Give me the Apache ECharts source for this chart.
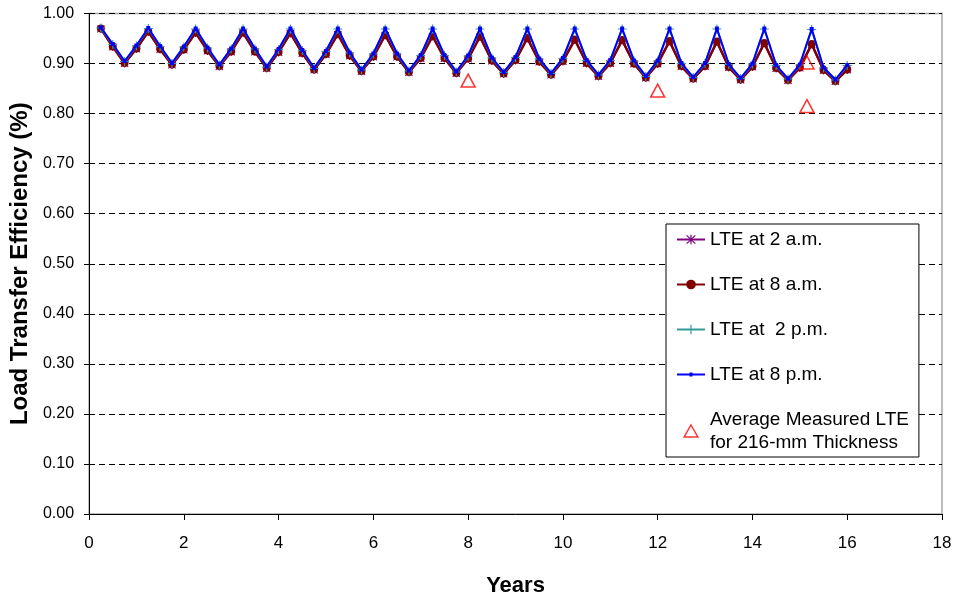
<!DOCTYPE html>
<html>
<head>
<meta charset="utf-8">
<script src="https://cdn.jsdelivr.net/npm/echarts@6/dist/echarts.min.js"></script>
<style>
html,body{margin:0;padding:0;background:#fff;}
#chart{width:955px;height:602px;}
</style>
</head>
<body>
<div id="chart"></div>
<script>
// ---- data ----
const years = [0.25,0.5,0.75,1.0,1.25,1.5,1.75,2.0,2.25,2.5,2.75,3.0,3.25,3.5,3.75,4.0,
  4.25,4.5,4.75,5.0,5.25,5.5,5.75,6.0,6.25,6.5,6.75,7.0,7.25,7.5,7.75,8.0,
  8.25,8.5,8.75,9.0,9.25,9.5,9.75,10.0,10.25,10.5,10.75,11.0,11.25,11.5,11.75,12.0,
  12.25,12.5,12.75,13.0,13.25,13.5,13.75,14.0,14.25,14.5,14.75,15.0,15.25,15.5,15.75,16.0];

const lte2am = [0.969,0.933,0.900,0.929,0.963,0.928,0.897,0.927,0.961,0.925,0.894,0.923,0.961,0.923,0.890,0.922,
  0.960,0.920,0.887,0.918,0.958,0.915,0.884,0.913,0.956,0.913,0.882,0.910,0.954,0.910,0.880,0.909,
  0.953,0.905,0.879,0.906,0.950,0.903,0.877,0.904,0.947,0.900,0.874,0.900,0.946,0.899,0.871,0.899,
  0.944,0.894,0.869,0.894,0.943,0.892,0.867,0.893,0.940,0.890,0.866,0.891,0.938,0.886,0.864,0.887];

const lte8am = [0.970,0.934,0.901,0.930,0.964,0.929,0.898,0.928,0.962,0.926,0.895,0.924,0.962,0.924,0.891,0.923,
  0.961,0.921,0.888,0.919,0.959,0.916,0.885,0.914,0.957,0.914,0.883,0.911,0.955,0.911,0.881,0.910,
  0.954,0.906,0.880,0.907,0.951,0.904,0.878,0.905,0.948,0.901,0.875,0.901,0.947,0.900,0.872,0.900,
  0.945,0.895,0.870,0.895,0.944,0.893,0.868,0.894,0.941,0.891,0.867,0.892,0.939,0.887,0.865,0.888];

const lte2pm = [0.971,0.938,0.904,0.935,0.970,0.934,0.900,0.933,0.969,0.931,0.897,0.929,0.969,0.929,0.893,0.928,
  0.969,0.926,0.890,0.924,0.969,0.921,0.887,0.919,0.969,0.919,0.885,0.916,0.969,0.916,0.883,0.915,
  0.969,0.911,0.882,0.912,0.969,0.909,0.880,0.910,0.969,0.906,0.877,0.906,0.969,0.905,0.874,0.905,
  0.969,0.900,0.872,0.900,0.969,0.898,0.870,0.899,0.969,0.896,0.869,0.897,0.968,0.891,0.867,0.896];

const lte8pm = [0.972,0.939,0.905,0.936,0.971,0.935,0.901,0.934,0.970,0.932,0.898,0.930,0.970,0.930,0.894,0.929,
  0.970,0.927,0.891,0.925,0.970,0.922,0.888,0.920,0.970,0.920,0.886,0.917,0.970,0.917,0.884,0.916,
  0.970,0.912,0.883,0.913,0.970,0.910,0.881,0.911,0.970,0.907,0.878,0.907,0.970,0.906,0.875,0.906,
  0.970,0.901,0.873,0.901,0.970,0.899,0.871,0.900,0.970,0.897,0.870,0.898,0.969,0.892,0.868,0.897];

const measuredYears = [8, 12, 15.15, 15.15];
const measuredLTE = [0.866, 0.846, 0.902, 0.815];

const xTicks = [0,2,4,6,8,10,12,14,16,18];
const yTicks = ['0.00','0.10','0.20','0.30','0.40','0.50','0.60','0.70','0.80','0.90','1.00'];

const seriesNames = ['LTE at 2 a.m.','LTE at 8 a.m.','LTE at  2 p.m.','LTE at 8 p.m.','Average Measured LTE for 216-mm Thickness'];

// ---- build ----
const pair = (xs, ys) => xs.map((x, i) => [x, ys[i]]);
const FONT = '"Liberation Sans", Arial, sans-serif';
const asterisk = 'path://M-0.12,-1L0.12,-1L0.12,1L-0.12,1Z M-0.92,-0.76L-0.76,-0.92L0.92,0.76L0.76,0.92Z M0.76,-0.92L0.92,-0.76L-0.76,0.92L-0.92,0.76Z';
const plus = 'path://M-1,-0.12L1,-0.12L1,0.12L-1,0.12Z M-0.12,-1L0.12,-1L0.12,1L-0.12,1Z';
const triPath = 'path://M0,0L1,1.75L-1,1.75Z';
const lineSmallSquare = 'path://M0,5L28,5L28,7L0,7Z M12.5,4L15.5,4L15.5,8L12.5,8Z';

const chart = echarts.init(document.getElementById('chart'), null, {renderer: 'canvas'});
chart.setOption({
  animation: false,
  backgroundColor: '#ffffff',
  grid: {left: 89, right: 13, top: 13.5, bottom: 83, show: true, borderColor: '#a8a8a8', borderWidth: 1.5},
  xAxis: {
    type: 'value', min: 0, max: 18, interval: 2,
    name: 'Years', nameLocation: 'middle', nameGap: 61,
    nameTextStyle: {fontFamily: FONT, fontWeight: 'bold', fontSize: 22, color: '#000'},
    axisLine: {show: true, onZero: false, lineStyle: {color: '#000', width: 1}},
    axisTick: {show: true, inside: false, length: 6, lineStyle: {color: '#000'}},
    axisLabel: {margin: 21, fontFamily: FONT, fontSize: 17, color: '#000',
      formatter: v => xTicks.includes(v) ? String(v) : ''},
    splitLine: {show: false}
  },
  yAxis: {
    type: 'value', min: 0, max: 1, interval: 0.1,
    name: 'Load Transfer Efficiency (%)', nameLocation: 'middle', nameGap: 48,
    nameTextStyle: {fontFamily: FONT, fontWeight: 'bold', fontSize: 24, color: '#000'},
    axisLine: {show: true, onZero: false, lineStyle: {color: '#000', width: 1}},
    axisTick: {show: true, inside: false, length: 5, lineStyle: {color: '#000'}},
    axisLabel: {margin: 15, fontFamily: FONT, fontSize: 16, color: '#000',
      formatter: v => yTicks[Math.round(v * 10)]},
    splitLine: {show: true, lineStyle: {color: '#000', width: 1, type: [6, 4]}}
  },
  legend: {
    orient: 'vertical', left: 666, top: 224,
    padding: [4, 10, 3, 10],
    itemGap: 22, itemWidth: 28, itemHeight: 12,
    symbolKeepAspect: true,
    backgroundColor: '#fff', borderColor: '#000', borderWidth: 1, borderRadius: 0,
    textStyle: {fontFamily: FONT, fontSize: 19, lineHeight: 23, color: '#000'},
    formatter: n => n === seriesNames[4] ? 'Average Measured LTE\nfor 216-mm Thickness' : n,
    data: [seriesNames[0], seriesNames[1], seriesNames[2],
      {name: seriesNames[3], icon: lineSmallSquare, itemStyle: {color: '#0000ff'}},
      {name: seriesNames[4], icon: triPath,
       itemStyle: {color: 'rgba(255,255,255,0)', borderColor: '#ff0000', borderWidth: 1.5}}]
  },
  series: [
    {name: seriesNames[0], type: 'line', data: pair(years, lte2am), z: 2,
      symbol: asterisk, symbolSize: 8, showAllSymbol: true,
      lineStyle: {color: '#800080', width: 2}, itemStyle: {color: '#800080'}},
    {name: seriesNames[1], type: 'line', data: pair(years, lte8am), z: 3,
      symbol: 'circle', symbolSize: 8, showAllSymbol: true,
      lineStyle: {color: '#800000', width: 2.5}, itemStyle: {color: '#800000'}},
    {name: seriesNames[2], type: 'line', data: pair(years, lte2pm), z: 4,
      symbol: plus, symbolSize: 9, showAllSymbol: true,
      lineStyle: {color: '#339999', width: 2}, itemStyle: {color: '#339999'}},
    {name: seriesNames[3], type: 'line', data: pair(years, lte8pm), z: 5,
      symbol: 'rect', symbolSize: 4, showAllSymbol: true,
      lineStyle: {color: '#0000ff', width: 2}, itemStyle: {color: '#0000ff'}},
    {name: seriesNames[4], type: 'scatter', data: pair(measuredYears, measuredLTE), z: 6,
      symbol: 'triangle', symbolSize: [14, 13],
      itemStyle: {color: 'rgba(255,255,255,0)', borderColor: '#ff0000', borderWidth: 1.5}}
  ]
});
</script>
</body>
</html>
